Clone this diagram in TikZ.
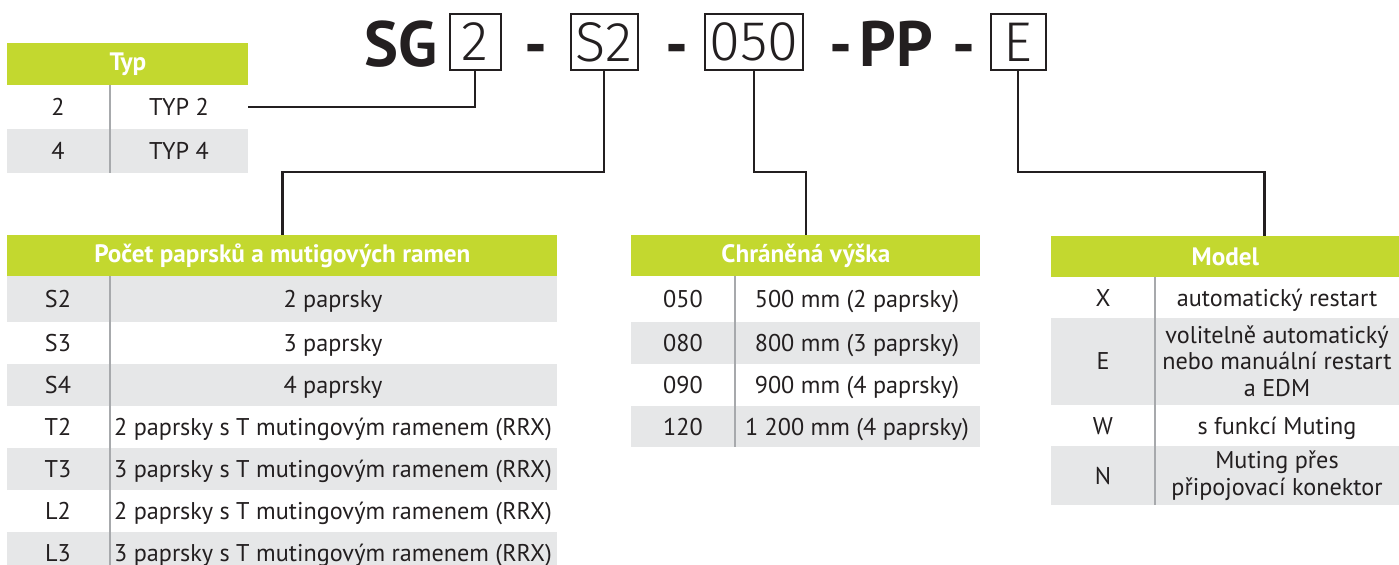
\documentclass[tikz,border=0pt]{standalone}
\usepackage{fontspec}
\setmainfont{PT Sans}
\newfontfamily\codefont{Fira Sans Light}
\usetikzlibrary{positioning}

\tikzset{
    hdr/.style={fill=sg_green, text=white, inner sep=0pt, anchor=north west,
        font=\bfseries\fontsize{12.6}{14}\selectfont},
    txt/.style={text=sg_text, inner sep=0pt, align=center,
        font=\fontsize{12.1}{13.3}\selectfont},
    cell/.style={txt, text height=8.4pt, text depth=0pt},
    codebox/.style={draw=sg_text, line width=1pt, inner sep=0pt, minimum height=28pt,
        text=sg_text, font=\codefont\fontsize{28}{28}\selectfont},
    bigtxt/.style={text=sg_text, inner sep=0pt, anchor=base,
        font=\bfseries\fontsize{32}{32}\selectfont},
    link/.style={draw=sg_text, line width=1.3pt},
    divider/.style={draw=sg_rule, line width=1pt}
}

\begin{document}
\begin{tikzpicture}[x=0.5pt, y=-0.5pt]
    \definecolor{sg_green}{HTML}{C3D82F}
    \definecolor{sg_grey}{HTML}{E6E7E8}
    \definecolor{sg_rule}{HTML}{A7A9AC}
    \definecolor{sg_text}{HTML}{231F20}
    % \draw[help lines, step=50] (0,0) grid (1399,565);
    \useasboundingbox (0,0) rectangle (1399,565);

    % order code
    \node[bigtxt] (sg) at (401,67) {SG};
    \node[codebox, minimum width=25.5pt] (b2) at (475,42) {2};
    \node[bigtxt] (d1) at (536,67) {-};
    \node[codebox, minimum width=33.5pt] (bS2) at (604,42) {S2};
    \node[bigtxt] (d2) at (677,67) {-};
    \node[codebox, minimum width=49pt] (b050) at (754,42) {050};
    \node[bigtxt] (d3) at (841,67) {-};
    \node[bigtxt] (pp) at (896,67) {PP};
    \node[bigtxt] (d4) at (964,67) {-};
    \node[codebox, minimum width=27.5pt] (bE) at (1018,42) {E};

    % Typ
    \node[hdr, minimum width=120.5pt, minimum height=21pt] (typhead) at (7,43) {Typ};
    \path[fill=sg_grey] (7,129) rectangle (248,173);
    \draw[divider] (110,85) -- (110,173);
    \node[cell] (t2a) at (58,107) {2};
    \node[cell] (t2b) at (179,107) {TYP 2};
    \node[cell] (t4a) at (58,151) {4};
    \node[cell] (t4b) at (179,151) {TYP 4};
    \coordinate (typend) at (248,107);

    % Pocet paprsku
    \node[hdr, minimum width=275pt, minimum height=20.5pt] (pocethead) at (7,235) {Počet paprsků a mutigových ramen};
    \path[fill=sg_grey] (7,276) rectangle (557,322);
    \path[fill=sg_grey] (7,364) rectangle (557,406);
    \path[fill=sg_grey] (7,448) rectangle (557,490);
    \path[fill=sg_grey] (7,532) rectangle (557,565);
    \draw[divider] (110,276) -- (110,565);
    \node[cell] (ps2a) at (58,299) {S2};
    \node[cell] (ps2b) at (333,299) {2 paprsky};
    \node[cell] (ps3a) at (58,343) {S3};
    \node[cell] (ps3b) at (333,343) {3 paprsky};
    \node[cell] (ps4a) at (58,385) {S4};
    \node[cell] (ps4b) at (333,385) {4 paprsky};
    \node[cell] (pt2a) at (58,427) {T2};
    \node[cell] (pt2b) at (333,427) {2 paprsky s T mutingovým ramenem (RRX)};
    \node[cell] (pt3a) at (58,469) {T3};
    \node[cell] (pt3b) at (333,469) {3 paprsky s T mutingovým ramenem (RRX)};
    \node[cell] (pl2a) at (58,511) {L2};
    \node[cell] (pl2b) at (333,511) {2 paprsky s T mutingovým ramenem (RRX)};
    \node[cell] (pl3a) at (58,553) {L3};
    \node[cell] (pl3b) at (333,553) {3 paprsky s T mutingovým ramenem (RRX)};

    % Chranena vyska
    \node[hdr, minimum width=174.5pt, minimum height=20.5pt] (chrhead) at (631,235) {Chráněná výška};
    \path[fill=sg_grey] (631,322) rectangle (980,364);
    \path[fill=sg_grey] (631,406) rectangle (980,447);
    \draw[divider] (735,276) -- (735,447);
    \node[cell] (h050a) at (683,299) {050};
    \node[cell] (h050b) at (857,299) {500 mm (2 paprsky)};
    \node[cell] (h080a) at (683,343) {080};
    \node[cell] (h080b) at (857,343) {800 mm (3 paprsky)};
    \node[cell] (h090a) at (683,385) {090};
    \node[cell] (h090b) at (857,385) {900 mm (4 paprsky)};
    \node[cell] (h120a) at (683,427) {120};
    \node[cell] (h120b) at (857,427) {1 200 mm (4 paprsky)};

    % Model
    \node[hdr, minimum width=174pt, minimum height=20.5pt] (modelhead) at (1051,236) {Model};
    \path[fill=sg_grey] (1051,318) rectangle (1399,405);
    \path[fill=sg_grey] (1051,446) rectangle (1399,505);
    \draw[divider] (1155,277) -- (1155,505);
    \node[cell] (mxa) at (1103,298) {X};
    \node[cell] (mxb) at (1277,298) {automatický restart};
    \node[cell] (mea) at (1103,361) {E};
    \node[txt] (meb) at (1277,361) {volitelně automatický\\nebo manuální restart\\a EDM};
    \node[cell] (mwa) at (1103,426) {W};
    \node[cell] (mwb) at (1277,426) {s funkcí Muting};
    \node[cell] (mna) at (1103,476) {N};
    \node[txt] (mnb) at (1277,476) {Muting přes\\připojovací konektor};

    % connectors
    \coordinate (bus) at (0,172);
    \draw[link] (b2.south) |- (typend);
    \draw[link] (bS2.south) -- (bS2.south |- bus) -| (pocethead.north);
    \draw[link] (b050.south) -- (b050.south |- bus) -| (chrhead.north);
    \draw[link] (bE.south) -- (bE.south |- bus) -| ([xshift=19.5pt]modelhead.north);
\end{tikzpicture}
\end{document}
